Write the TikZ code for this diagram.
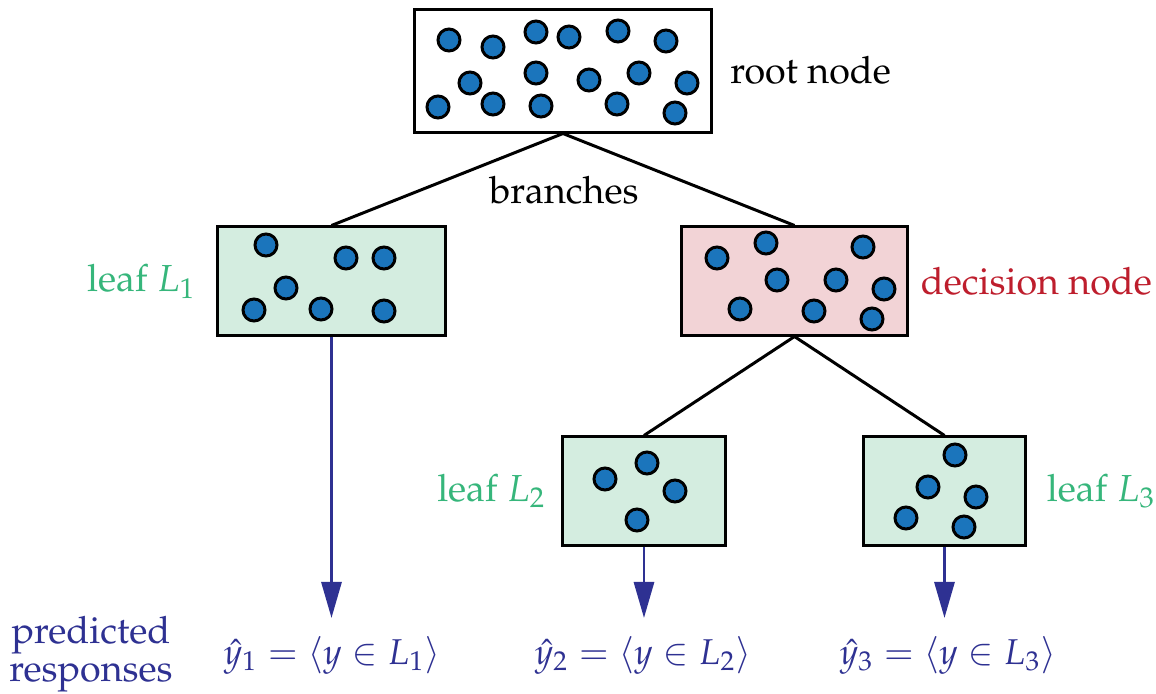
\documentclass[tikz,border=0pt]{standalone}
\usepackage[T1]{fontenc}
\usepackage{mathpazo}
\usepackage{amsmath}
\usepackage{xcolor}
\usetikzlibrary{arrows.meta, positioning}
\definecolor{dotblue}{HTML}{1B75BC}
\definecolor{leafgreen}{HTML}{D4EDE0}
\definecolor{leaftext}{HTML}{36B67B}
\definecolor{decisionpink}{HTML}{F2D3D6}
\definecolor{decisionred}{HTML}{BE1E2D}
\definecolor{predblue}{HTML}{2E3192}
\tikzset{
  treebox/.style={draw=black, line width=0.85pt, inner sep=0pt},
  sample/.style={circle, fill=dotblue, draw=black, line width=0.85pt, minimum size=0.22cm, inner sep=0pt},
  branch/.style={black, line width=0.85pt},
  predict/.style={predblue, line width=0.85pt, -{Triangle[length=3.6mm, width=2mm]}}
}
\begin{document}
\begin{tikzpicture}[x=0.01cm, y=-0.01cm, font=\fontsize{10.7pt}{12.8pt}\selectfont]
        \useasboundingbox (0,0) rectangle (1156,694);
        % boxes
        \node[treebox, fill=white, minimum width=2.96cm, minimum height=1.22cm] (root) at (563,71) {};
        \node[treebox, fill=leafgreen, minimum width=2.27cm, minimum height=1.08cm] (leafA) at (331.5,281) {};
        \node[treebox, fill=decisionpink, minimum width=2.25cm, minimum height=1.08cm] (decision) at (794.5,281) {};
        \node[treebox, fill=leafgreen, minimum width=1.62cm, minimum height=1.08cm] (leafB) at (644,491) {};
        \node[treebox, fill=leafgreen, minimum width=1.61cm, minimum height=1.08cm] (leafC) at (944.5,491) {};
        % samples
        \foreach \p in {(449,40),(493,47),(536,32),(569,37),(618,31),(666,41),(470,83),(536,73),
                        (589,80),(639,73),(687,83),(438,107),(493,104),(541,106),(617,104),(675,113)}
          \node[sample] at \p {};
        \foreach \p in {(266,245),(346,258),(384,258),(286,288),(254,310),(321,309),(384,311)}
          \node[sample] at \p {};
        \foreach \p in {(717,258),(766,243),(863,247),(777,280),(836,280),(884,289),(740,309),(814,311),(872,319)}
          \node[sample] at \p {};
        \foreach \p in {(605,479),(647,463),(675,491),(637,520)}
          \node[sample] at \p {};
        \foreach \p in {(955,455),(928,487),(976,497),(906,518),(964,527)}
          \node[sample] at \p {};
        % branches
        \draw[branch] (root.south) -- (leafA.north);
        \draw[branch] (root.south) -- (decision.north);
        \draw[branch] (decision.south) -- (leafB.north);
        \draw[branch] (decision.south) -- (leafC.north);
        % labels
        \node[anchor=west] (rootlabel) at (718,70) {root node};
        \node (branchlabel) at (564,190) {branches};
        \node[leaftext, left=0.08cm of leafA] (leafAlabel) {leaf $L_1$};
        \node[decisionred, right=0cm of decision] (decisionlabel) {decision node};
        \node[leaftext, left=0.03cm of leafB] (leafBlabel) {leaf $L_2$};
        \node[leaftext, right=0.08cm of leafC] (leafClabel) {leaf $L_3$};
        % predictions
        \coordinate (tipA) at (331.5,618);
        \coordinate (tipB) at (644,618);
        \coordinate (tipC) at (944.5,618);
        \draw[predict] (leafA.south) -- (tipA);
        \draw[predict] (leafB.south) -- (tipB);
        \draw[predict] (leafC.south) -- (tipC);
        \node[predblue, align=center, inner sep=0pt] (predlabel) at (91,654) {predicted\\[-2pt]responses};
        \node[predblue, font=\fontsize{10.2pt}{12pt}\selectfont] (predA) at (332,655) {$\hat{y}_1 = \langle y \in L_1 \rangle$};
        \node[predblue, font=\fontsize{10.2pt}{12pt}\selectfont] (predB) at (643,655) {$\hat{y}_2 = \langle y \in L_2 \rangle$};
        \node[predblue, font=\fontsize{10.2pt}{12pt}\selectfont] (predC) at (948,655) {$\hat{y}_3 = \langle y \in L_3 \rangle$};
      \end{tikzpicture}
\end{document}
